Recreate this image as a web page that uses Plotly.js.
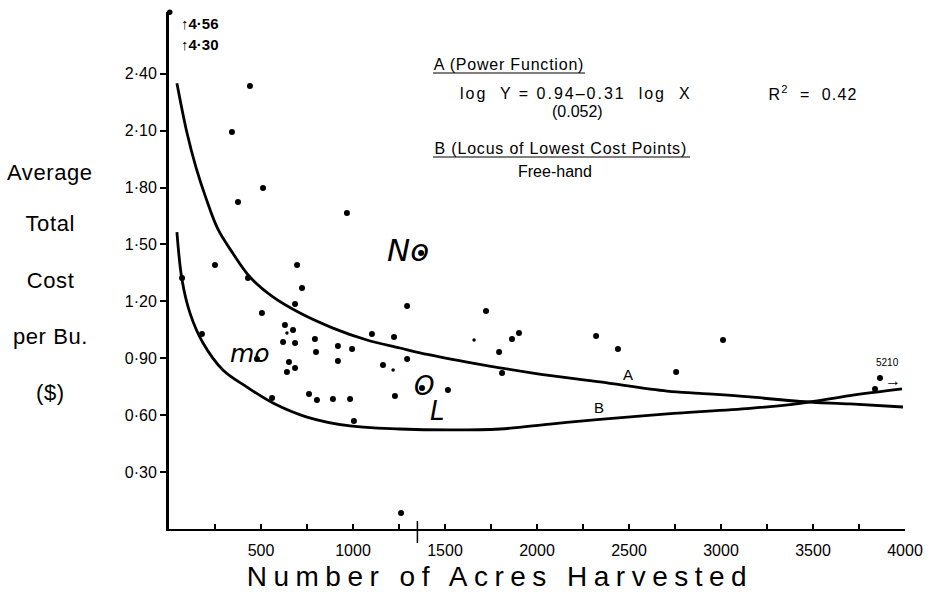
<!DOCTYPE html>
<html>
<head>
<meta charset="utf-8">
<script src="https://cdn.plot.ly/plotly-3.0.1.min.js"></script>
<style>
html,body{margin:0;padding:0;background:#fff;}
#chart{width:930px;height:597px;}
.annotation[data-index="0"] text{letter-spacing:6.5px;}
.annotation[data-index="6"] text,.annotation[data-index="11"] text{letter-spacing:0.8px;}
.annotation[data-index="7"] text{letter-spacing:2px;}
.annotation[data-index="9"] text{letter-spacing:1.2px;}
.annotation[data-index="1"] text,.annotation[data-index="2"] text,.annotation[data-index="3"] text,.annotation[data-index="4"] text,.annotation[data-index="5"] text{letter-spacing:0.6px;}
</style>
</head>
<body>
<div id="chart"></div>
<script>
// ---- data ----
// farm observations (acres harvested, average total cost per bushel $)
const farmAcres = [440, 342, 511, 375, 967, 250, 696, 429, 723, 685, 505, 1294, 630, 674,
  620, 685, 793, 799, 918, 995, 918, 1103, 1223, 1294, 1163, 652, 685, 641, 179, 71,
  560, 761, 804, 891, 984, 1228, 1005, 1723, 1902, 1864, 1794, 1810, 2321, 2440, 2756,
  1516, 3011, 3837, 1261, 1370, 478, 1375, 3864];
const farmCost = [2.335, 2.092, 1.797, 1.723, 1.665, 1.391, 1.391, 1.323, 1.270, 1.186, 1.138, 1.175, 1.075, 1.049,
  0.985, 0.980, 1.001, 0.933, 0.964, 0.949, 0.885, 1.028, 1.012, 0.896, 0.864, 0.880, 0.848, 0.827, 1.028, 1.323,
  0.690, 0.711, 0.680, 0.685, 0.685, 0.701, 0.569, 1.149, 1.033, 1.001, 0.933, 0.822, 1.017, 0.949, 0.827,
  0.733, 0.996, 0.738, 0.084, 1.455, 0.896, 0.743, 0.796];
// faint / small observations
const smallAcres = [641, 1658, 1218];
const smallCost = [1.033, 0.996, 0.838];

// Curve A: power function fit
const curveAx = [43, 98, 147, 201, 266, 348, 440, 565, 712, 891, 1076, 1255, 1364, 1620, 1978, 2342, 2707, 2886, 3158, 3430, 3701, 3989];
const curveAy = [2.350, 2.087, 1.905, 1.744, 1.580, 1.452, 1.328, 1.223, 1.138, 1.059, 0.996, 0.954, 0.928, 0.880, 0.822, 0.775, 0.727, 0.715, 0.696, 0.672, 0.659, 0.643];
// Curve B: locus of lowest cost points (free-hand)
const curveBx = [43, 71, 114, 185, 293, 424, 565, 750, 984, 1255, 1520, 1799, 2071, 2342, 2707, 3158, 3430, 3701, 3984];
const curveBy = [1.565, 1.312, 1.138, 0.980, 0.838, 0.748, 0.664, 0.590, 0.543, 0.527, 0.522, 0.527, 0.553, 0.578, 0.607, 0.636, 0.662, 0.703, 0.738];

// axis ticks
const yTickVals = [0.30, 0.60, 0.90, 1.20, 1.50, 1.80, 2.10, 2.40];
const yTickText = ['0·30', '0·60', '0·90', '1·20', '1·50', '1·80', '2·10', '2·40'];
const xTickVals = [250, 500, 750, 1000, 1250, 1500, 1750, 2000, 2250, 2500, 2750, 3000, 3250, 3500, 3750, 4000];
const xTickText = ['', '500', '', '1000', '', '1500', '', '2000', '', '2500', '', '3000', '', '3500', '', '4000'];

// ---- helpers for pixel-placed decorations ----
const L = 169, T = 12, W = 736, H = 517;
const px = p => (p - L) / W;          // paper x
const py = p => (T + H - p) / H;      // paper y

const FONT = 'Liberation Sans, Arial, sans-serif';
const DV = 'DejaVu Sans, sans-serif';

const traces = [
  {x: curveAx, y: curveAy, mode: 'lines', line: {color: '#000', width: 2.8, shape: 'spline', smoothing: 1.0}, hoverinfo: 'skip'},
  {x: curveBx, y: curveBy, mode: 'lines', line: {color: '#000', width: 2.8, shape: 'spline', smoothing: 1.0}, hoverinfo: 'skip'},
  {x: farmAcres, y: farmCost, mode: 'markers', marker: {color: '#000', size: 6}},
  {x: smallAcres, y: smallCost, mode: 'markers', marker: {color: '#000', size: 3.5}}
];

function ann(text, x, y, opts) {
  return Object.assign({text: text, x: px(x), y: py(y), xref: 'paper', yref: 'paper',
    showarrow: false, xanchor: 'center', yanchor: 'middle',
    font: {family: FONT, size: 16, color: '#000'}}, opts || {});
}
const f = (size, extra) => Object.assign({family: FONT, size: size, color: '#000'}, extra || {});

const annotations = [
  // 0: x-axis title
  ann('Number of Acres Harvested', 500, 576, {font: f(28)}),
  // 1-5: y-axis title (stacked)
  ann('Average', 50, 172, {font: f(22)}),
  ann('Total', 50, 223, {font: f(22)}),
  ann('Cost', 50, 280, {font: f(22)}),
  ann('per Bu.', 50, 336, {font: f(22)}),
  ann('($)', 50, 392, {font: f(22)}),
  // 6-11: equation block
  ann('A (Power Function)', 509, 64),
  ann('log  Y = 0.94–0.31  log  X', 576, 93),
  ann('(0.052)', 577, 111),
  ann('R<sup>2</sup>  =  0.42', 813, 93),
  ann('Free-hand', 555, 171),
  ann('B (Locus of Lowest Cost Points)', 561, 148),
  // curve labels
  ann('A', 628, 374, {font: f(15)}),
  ann('B', 599, 407, {font: f(15)}),
  // handwritten group labels
  ann('No', 408, 250, {font: {family: DV, size: 31, color: '#000', style: 'italic'}}),
  ann('mo', 250, 353, {font: {family: DV, size: 25, color: '#000', style: 'italic'}}),
  ann('O', 424, 386, {font: {family: DV, size: 26, color: '#000', style: 'italic'}}),
  ann('L', 437, 411, {font: {family: DV, size: 26, color: '#000', style: 'italic'}}),
  // off-scale values
  ann('<b>↑</b>4·56', 179, 24, {xanchor: 'left', font: f(15, {weight: 'bold'})}),
  ann('<b>↑</b>4·30', 179, 44, {xanchor: 'left', font: f(15, {weight: 'bold'})}),
  ann('5210', 887, 363, {font: f(10)}),
  ann('→', 893, 380, {font: f(16)})
];

const shapes = [
  // underlines
  {type: 'line', xref: 'paper', yref: 'paper', x0: px(433), x1: px(585), y0: py(73), y1: py(73), line: {color: '#000', width: 1.2}},
  {type: 'line', xref: 'paper', yref: 'paper', x0: px(433), x1: px(690), y0: py(157), y1: py(157), line: {color: '#000', width: 1.2}},
  // dot capping the y axis
  {type: 'circle', xref: 'paper', yref: 'paper', x0: px(167), x1: px(172.5), y0: py(9.5), y1: py(15), fillcolor: '#000', line: {width: 0}},
  // long tick crossing the x axis
  {type: 'line', xref: 'x', yref: 'paper', x0: 1350, x1: 1350, y0: py(543), y1: py(521), line: {color: '#000', width: 1.5}}
];

const layout = {
  width: 930, height: 597,
  margin: {l: L, r: 930 - L - W, t: T, b: 597 - T - H, pad: 0},
  paper_bgcolor: '#fff', plot_bgcolor: '#fff',
  showlegend: false,
  xaxis: {
    range: [0, 4000], showgrid: false, zeroline: false,
    showline: true, linecolor: '#000', linewidth: 2,
    tickmode: 'array', tickvals: xTickVals, ticktext: xTickText,
    ticks: 'inside', ticklen: 5, tickwidth: 1.5, tickcolor: '#000',
    ticklabelstandoff: 6,
    tickfont: {family: FONT, size: 16, color: '#000'}
  },
  yaxis: {
    range: [0, 2.725], showgrid: false, zeroline: false,
    showline: true, linecolor: '#000', linewidth: 3,
    tickmode: 'array', tickvals: yTickVals, ticktext: yTickText,
    ticks: 'outside', ticklen: 6, tickwidth: 2, tickcolor: '#000',
    tickfont: {family: FONT, size: 16, color: '#000'}
  },
  annotations: annotations,
  shapes: shapes
};

Plotly.newPlot('chart', traces, layout, {displayModeBar: false, staticPlot: true});
</script>
</body>
</html>
